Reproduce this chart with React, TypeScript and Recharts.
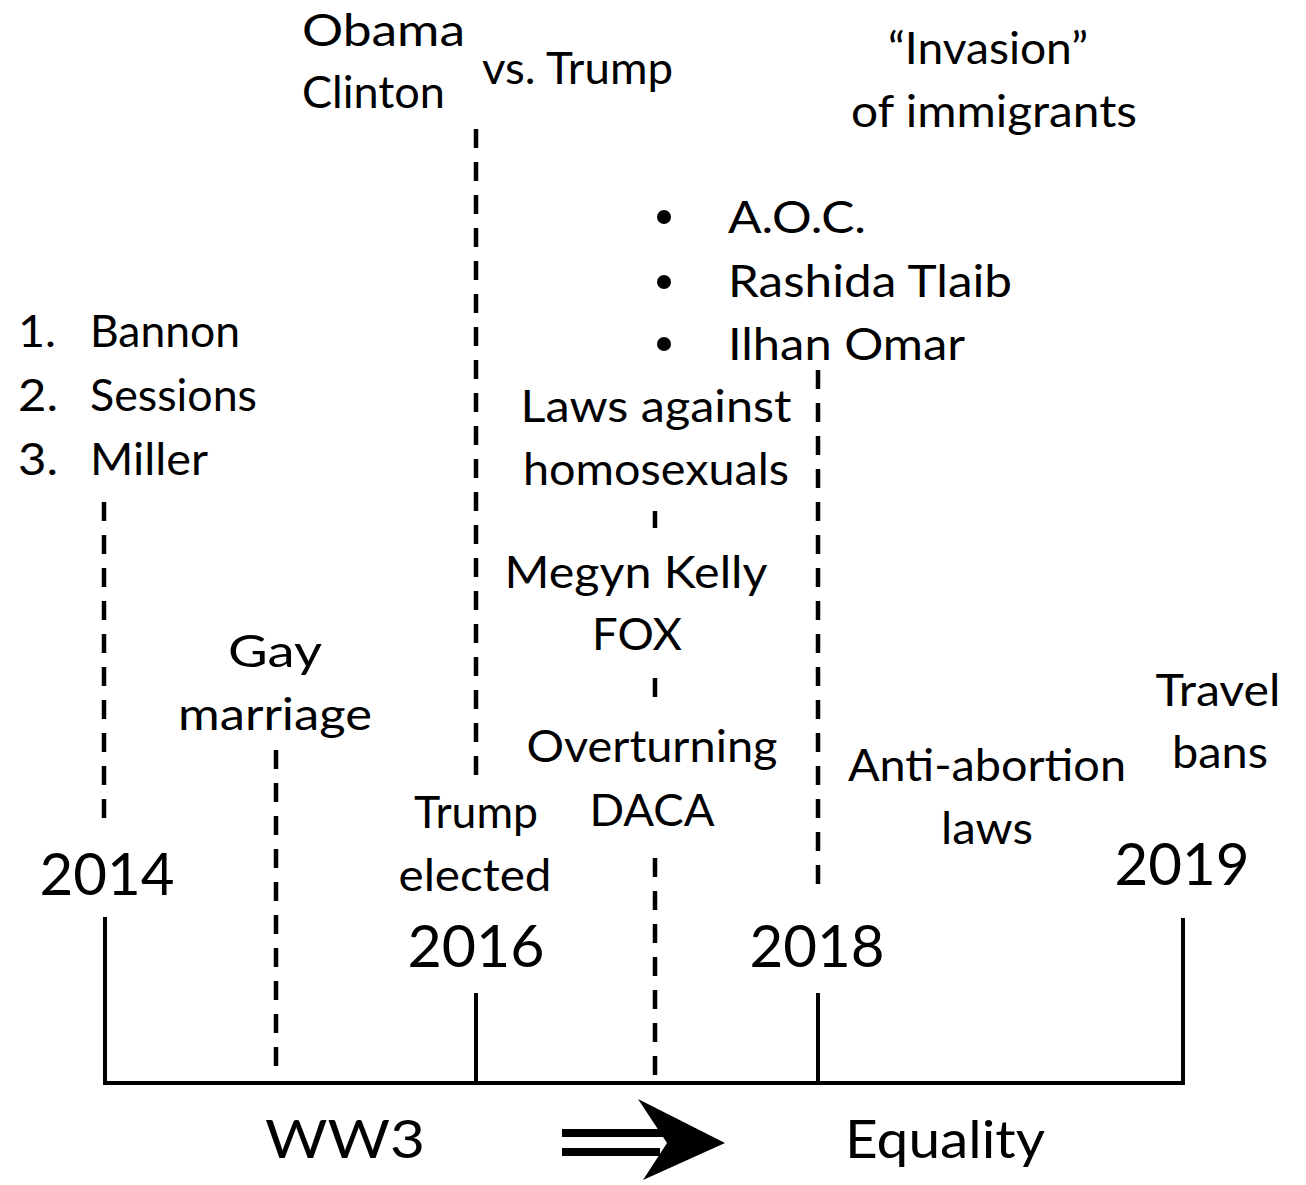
import React from "react";
import { ComposedChart, XAxis, YAxis, ReferenceLine, Scatter } from "recharts";

// Timeline years and where they sit on the timeline axis
const yearLabels = ["2014", "2016", "2018", "2019"];
const yearPos = [105, 476, 818, 1183];
const yearTickTop = [917, 993, 993, 918];
const yearLabelX = [107, 476, 817, 1182];
const yearLabelY = [895, 967, 967, 885];
const yearLabelW = [135, 137, 135, 135];

// Timeline baseline
const baseY = 1083;

// Dashed event markers: x position, start, end
const markerX = [104, 276, 476, 655, 655, 655, 818];
const markerTop = [502, 750, 129, 511, 678, 858, 370];
const markerBottom = [826, 1078, 775, 528, 699, 1080, 897];

// Event text lines
const eventLines = [
  "Obama", "Clinton", "vs. Trump",
  "\u201CInvasion\u201D", "of immigrants",
  "A.O.C.", "Rashida Tlaib", "Ilhan Omar",
  "1.", "Bannon", "2.", "Sessions", "3.", "Miller",
  "Laws against", "homosexuals",
  "Megyn Kelly", "FOX",
  "Gay", "marriage",
  "Overturning", "DACA",
  "Trump", "elected",
  "Anti-abortion", "laws",
  "Travel", "bans",
];
const eventX = [
  302, 302, 482,
  988, 994,
  728, 728, 728,
  18, 90, 18, 90, 18, 90,
  656, 656,
  636, 637,
  275, 275,
  652, 652,
  476, 475,
  987, 987,
  1218, 1220,
];
const eventY = [
  46, 108, 84,
  64, 127,
  233, 297, 360,
  347, 347, 411, 411, 475, 475,
  422, 485,
  588, 650,
  667, 730,
  762, 826,
  828, 891,
  781, 844,
  706, 768,
];
const eventAnchor = [
  "start", "start", "start",
  "middle", "middle",
  "start", "start", "start",
  "start", "start", "start", "start", "start", "start",
  "middle", "middle",
  "middle", "middle",
  "middle", "middle",
  "middle", "middle",
  "middle", "middle",
  "middle", "middle",
  "middle", "middle",
];
const eventW = [
  163, 143, 191,
  200, 286,
  138, 284, 237,
  38, 150, 40, 167, 40, 118,
  271, 266,
  263, 90,
  94, 194,
  251, 125,
  124, 153,
  278, 92,
  125, 96,
];

// Bullets for the list of congresswomen
const bulletX = [664, 664, 664];
const bulletY = [217, 282, 344];

// Bottom captions
const captionLabels = ["WW3", "Equality"];
const captionX = [345, 945];
const captionY = [1158, 1158];
const captionW = [160, 200];

// Direction arrow
const arrowPoint = [{ x: 643, y: 1143 }];

const FONT = "Lato, 'Open Sans', sans-serif";

const textData = [
  ...eventLines.map((t, i) => ({
    x: eventX[i], y: eventY[i], t, a: eventAnchor[i], w: eventW[i], s: 44,
  })),
  ...yearLabels.map((t, i) => ({
    x: yearLabelX[i], y: yearLabelY[i], t, a: "middle", w: yearLabelW[i], s: 58,
  })),
  ...captionLabels.map((t, i) => ({
    x: captionX[i], y: captionY[i], t, a: "middle", w: captionW[i], s: 53,
  })),
];

const bulletData = bulletX.map((x, i) => ({ x, y: bulletY[i] }));

const TextShape = (props: any) => {
  const { cx, cy, payload } = props;
  if (cx == null || cy == null) return <g />;
  return (
    <text
      x={cx}
      y={cy}
      textAnchor={payload.a}
      fontFamily={FONT}
      fontSize={payload.s}
      fill="#000"
      textLength={payload.w}
      lengthAdjust="spacingAndGlyphs"
    >
      {payload.t}
    </text>
  );
};

const BulletShape = (props: any) => {
  const { cx, cy } = props;
  if (cx == null || cy == null) return <g />;
  return <circle cx={cx} cy={cy} r={7} fill="#000" />;
};

const ArrowShape = (props: any) => {
  const { cx, cy } = props;
  if (cx == null || cy == null) return <g />;
  return (
    <g fill="#000">
      <rect x={cx - 81} y={cy - 14} width={101} height={8} />
      <rect x={cx - 81} y={cy + 5} width={98} height={8} />
      <polygon
        points={`${cx - 5},${cy - 44} ${cx + 82},${cy} ${cx},${cy + 37} ${cx + 24},${cy}`}
      />
    </g>
  );
};

export default function App() {
  return (
    <div style={{ position: "absolute", left: 0, top: 0, background: "#fff" }}>
      <ComposedChart
        width={1306}
        height={1185}
        margin={{ top: 0, right: 0, bottom: 0, left: 0 }}
      >
        <XAxis type="number" dataKey="x" domain={[0, 1306]} hide allowDataOverflow />
        <YAxis type="number" dataKey="y" domain={[0, 1185]} reversed hide allowDataOverflow />

        {/* baseline */}
        <ReferenceLine
          segment={[{ x: yearPos[0] - 2, y: baseY }, { x: yearPos[3] + 2, y: baseY }]}
          stroke="#000"
          strokeWidth={4}
          ifOverflow="visible"
        />
        {/* year ticks */}
        {yearPos.map((x, i) => (
          <ReferenceLine
            key={"yt" + i}
            segment={[{ x, y: yearTickTop[i] }, { x, y: baseY }]}
            stroke="#000"
            strokeWidth={4}
            ifOverflow="visible"
          />
        ))}
        {/* dashed event markers */}
        {markerX.map((x, i) => (
          <ReferenceLine
            key={"m" + i}
            segment={[{ x, y: markerTop[i] }, { x, y: markerBottom[i] }]}
            stroke="#000"
            strokeWidth={4.5}
            strokeDasharray="19 14"
            ifOverflow="visible"
          />
        ))}

        <Scatter data={bulletData} shape={BulletShape} isAnimationActive={false} />
        <Scatter data={arrowPoint} shape={ArrowShape} isAnimationActive={false} />
        <Scatter data={textData} shape={TextShape} isAnimationActive={false} />
      </ComposedChart>
    </div>
  );
}
